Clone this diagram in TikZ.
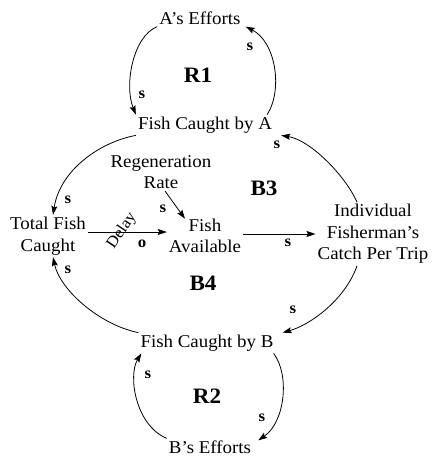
\documentclass[tikz,border=0pt]{standalone}
\usepackage{fontspec}
\setmainfont{Liberation Serif}[FakeStretch=1.05]
\usetikzlibrary{arrows.meta}
\begin{document}
\begin{tikzpicture}[x=1pt,y=-1pt,
  lbl/.style={font=\fontsize{18}{21.5}\selectfont, align=center, inner sep=2pt},
  pol/.style={font=\bfseries\fontsize{16}{16}\selectfont, inner sep=0pt},
  loopname/.style={font=\bfseries\fontsize{22}{22}\selectfont, inner sep=0pt},
  link/.style={line width=0.8pt, -{Stealth[length=9pt,width=6pt,inset=1.5pt]}}]
\useasboundingbox (0,0) rectangle (434,456);
% variables
\node[lbl] (ae) at (200,18) {A’s Efforts};
\node[lbl] (fa) at (205,125) {Fish Caught by A};
\node[lbl] (rr) at (161,172) {Regeneration\\Rate};
\node[lbl] (tf) at (48,236) {Total Fish\\Caught};
\node[lbl] (fav) at (205,236) {Fish\\Available};
\node[lbl] (ic) at (373,234) {Individual\\Fisherman’s\\Catch Per Trip};
\node[lbl] (fb) at (207,343) {Fish Caught by B};
\node[lbl] (be) at (210,447) {B’s Efforts};
% loop names
\node[loopname] (r1) at (198,75) {R1};
\node[loopname] (b3) at (264,188) {B3};
\node[loopname] (b4) at (203,283) {B4};
\node[loopname] (r2) at (207,396) {R2};
% links
\draw[link] (ae.south west) .. controls (133,36) and (124,85) .. (fa.north west);
\draw[link] ([xshift=-7pt]fa.north east) .. controls (283,90) and (276,42) .. ([xshift=3pt]ae.south east);
\draw[link] (fa.south west) .. controls (100,142) and (60,170) .. ([xshift=5pt]tf.north);
\draw[link] ([xshift=-16pt]ic.north) .. controls (345,175) and (310,140) .. ([xshift=7pt]fa.south east);
\draw[link] ([xshift=4pt]rr.south) -- ([xshift=-20pt,yshift=-2pt]fav.north);
\draw[link] ([yshift=4pt]tf.east) -- ([yshift=4pt]fav.west);
\draw[link] ([yshift=2pt]fav.east) -- ([yshift=2pt]fav.east -| ic.west);
\draw[link] ([xshift=-16pt]ic.south) .. controls (345,300) and (310,325) .. ([xshift=7pt]fb.north east);
\draw[link] (fb.north west) .. controls (100,325) and (60,290) .. ([xshift=5pt]tf.south);
\draw[link] ([xshift=-2pt]fb.south east) .. controls (290,375) and (285,422) .. ([xshift=5pt,yshift=-2pt]be.north east);
\draw[link] (be.north west) .. controls (135,425) and (128,375) .. ([xshift=3pt]fb.south west);
% polarities
\node[pol] (p1) at (142,95) {s};
\node[pol] (p2) at (250,47) {s};
\node[pol] (p3) at (68,200) {s};
\node[pol] (p4) at (277,145) {s};
\node[pol] (p5) at (163,209) {s};
\node[pol] (p6) at (142,244) {o};
\node[pol] (p7) at (288,243) {s};
\node[pol] (p8) at (293,310) {s};
\node[pol] (p9) at (68,270) {s};
\node[pol] (p10) at (262,418) {s};
\node[pol] (p11) at (148,375) {s};
\node[font=\fontsize{16}{16}\selectfont, rotate=56, inner sep=0pt] (dl) at (122,231) {Delay};
\end{tikzpicture}
\end{document}
